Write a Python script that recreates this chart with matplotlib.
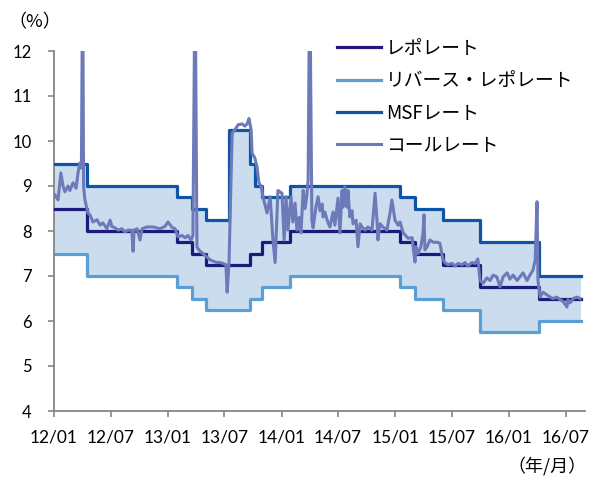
import matplotlib
matplotlib.use('Agg')
import matplotlib.pyplot as plt
import pandas as pd

plt.rcParams['font.family'] = ['Lato', 'Noto Sans CJK JP', 'DejaVu Sans']

# ---- policy rates (step changes) ----
repo_dates = ['2012-01-01', '2012-04-17', '2013-01-29', '2013-03-19', '2013-05-03',
              '2013-09-20', '2013-10-29', '2014-01-28', '2015-01-15', '2015-03-04',
              '2015-06-02', '2015-09-29', '2016-04-05']
repo_rate = [8.5, 8.0, 7.75, 7.5, 7.25, 7.5, 7.75, 8.0, 7.75, 7.5, 7.25, 6.75, 6.5]
reverse_repo_rate = [7.5, 7.0, 6.75, 6.5, 6.25, 6.5, 6.75, 7.0, 6.75, 6.5, 6.25, 5.75, 6.0]

msf_dates = ['2012-01-01', '2012-04-17', '2013-01-29', '2013-03-19', '2013-05-03',
             '2013-07-15', '2013-09-20', '2013-10-07', '2013-10-29', '2014-01-28',
             '2015-01-15', '2015-03-04', '2015-06-02', '2015-09-29', '2016-04-05']
msf_rate = [9.5, 9.0, 8.75, 8.5, 8.25, 10.25, 9.5, 9.0, 8.75, 9.0, 8.75, 8.5, 8.25, 7.75, 7.0]

rates_end = '2016-08-19'

# ---- call rate ----
call_dates = [
    '2012-01-04', '2012-01-14', '2012-01-23', '2012-01-30', '2012-02-05', '2012-02-15',
    '2012-02-21', '2012-03-02', '2012-03-12', '2012-03-18', '2012-03-24', '2012-03-29',
    '2012-04-02', '2012-04-05', '2012-04-09', '2012-04-19', '2012-04-26', '2012-05-05',
    '2012-05-18', '2012-05-28', '2012-06-06', '2012-06-19', '2012-06-29', '2012-07-05',
    '2012-07-15', '2012-07-25', '2012-08-06', '2012-08-16', '2012-08-26', '2012-09-07',
    '2012-09-11', '2012-09-14', '2012-09-24', '2012-10-03', '2012-10-10', '2012-10-26',
    '2012-11-14', '2012-12-06', '2012-12-22', '2013-01-01', '2013-01-14', '2013-01-24',
    '2013-02-02', '2013-02-15', '2013-02-25', '2013-03-06', '2013-03-16', '2013-03-22',
    '2013-03-29', '2013-04-04', '2013-04-14', '2013-04-23', '2013-05-06', '2013-05-16',
    '2013-05-26', '2013-06-07', '2013-06-17', '2013-06-27', '2013-07-06', '2013-07-10',
    '2013-07-16', '2013-07-26', '2013-08-04', '2013-08-14', '2013-08-27', '2013-09-05',
    '2013-09-12', '2013-09-18', '2013-09-25', '2013-09-28', '2013-10-07', '2013-10-14',
    '2013-10-20', '2013-10-27', '2013-11-02', '2013-11-15', '2013-11-25', '2013-12-04',
    '2013-12-11', '2013-12-20', '2014-01-02', '2014-01-09', '2014-01-15', '2014-01-21',
    '2014-01-31', '2014-02-06', '2014-02-13', '2014-02-19', '2014-02-26', '2014-03-04',
    '2014-03-11', '2014-03-17', '2014-03-23', '2014-03-27', '2014-04-01', '2014-04-08',
    '2014-04-12', '2014-04-21', '2014-04-28', '2014-05-04', '2014-05-11', '2014-05-14',
    '2014-05-20', '2014-05-27', '2014-06-05', '2014-06-15', '2014-06-21', '2014-07-01',
    '2014-07-07', '2014-07-14', '2014-07-17', '2014-07-23', '2014-07-30', '2014-08-02',
    '2014-08-08', '2014-08-15', '2014-08-18', '2014-08-28', '2014-09-03', '2014-09-10',
    '2014-09-16', '2014-09-26', '2014-10-05', '2014-10-18', '2014-10-28', '2014-11-03',
    '2014-11-06', '2014-11-13', '2014-11-22', '2014-12-05', '2014-12-15', '2014-12-21',
    '2014-12-31', '2015-01-10', '2015-01-16', '2015-01-26', '2015-02-11', '2015-02-24',
    '2015-02-27', '2015-03-05', '2015-03-08', '2015-03-15', '2015-03-24', '2015-03-31',
    '2015-04-03', '2015-04-06', '2015-04-13', '2015-04-22', '2015-05-02', '2015-05-15',
    '2015-05-24', '2015-06-03', '2015-06-09', '2015-06-19', '2015-07-02', '2015-07-12',
    '2015-07-21', '2015-08-03', '2015-08-13', '2015-08-22', '2015-09-04', '2015-09-14',
    '2015-09-23', '2015-09-30', '2015-10-10', '2015-10-22', '2015-11-01', '2015-11-11',
    '2015-11-23', '2015-12-03', '2015-12-13', '2015-12-26', '2016-01-04', '2016-01-14',
    '2016-01-27', '2016-02-05', '2016-02-15', '2016-02-28', '2016-03-08', '2016-03-18',
    '2016-03-25', '2016-03-31', '2016-04-03', '2016-04-10', '2016-04-19', '2016-05-02',
    '2016-05-12', '2016-05-21', '2016-06-03', '2016-06-13', '2016-06-22', '2016-07-05',
    '2016-07-08', '2016-07-15', '2016-07-25', '2016-08-06', '2016-08-16']
call_rate = [
    8.8, 8.69, 9.29, 9.0, 8.87, 9.0,
    8.9, 9.07, 8.95, 9.29, 9.51, 9.4,
    14.0, 9.0, 8.7, 8.4, 8.35, 8.2,
    8.25, 8.13, 8.18, 8.05, 8.24, 8.1,
    8.07, 8.02, 8.05, 7.98, 8.02, 8.02,
    7.55, 8.02, 8.05, 7.8, 8.05, 8.09,
    8.09, 8.05, 8.1, 8.2, 8.08, 8.05,
    7.87, 7.9, 7.85, 7.9, 7.8, 7.9,
    14.0, 7.64, 7.55, 7.5, 7.42, 7.36,
    7.33, 7.3, 7.3, 7.28, 7.25, 6.64,
    7.3, 10.17, 10.25, 10.36, 10.38, 10.33,
    10.38, 10.5, 10.25, 9.73, 9.62, 9.42,
    9.07, 9.0, 8.76, 8.4, 8.76, 7.8,
    7.3, 8.9, 8.84, 7.8, 8.76, 8.02,
    8.76, 8.2, 8.62, 8.02, 8.3, 7.96,
    8.9, 8.5, 8.8, 9.13, 14.0, 8.24,
    8.07, 8.53, 8.76, 8.45, 8.6, 8.31,
    8.42, 8.24, 8.09, 8.42, 8.13, 8.73,
    7.96, 8.9, 8.53, 8.98, 8.53, 8.9,
    8.31, 8.45, 8.16, 8.24, 7.65, 8.16,
    8.09, 8.02, 8.09, 8.02, 8.84, 8.24,
    7.8, 8.16, 8.09, 8.02, 8.4, 8.69,
    8.24, 8.13, 8.2, 7.96, 7.84, 7.85,
    7.65, 7.31, 7.65, 7.5, 7.65, 7.96,
    8.36, 7.58, 7.65, 7.8, 7.75, 7.75,
    7.73, 7.36, 7.3, 7.25, 7.28, 7.22,
    7.28, 7.25, 7.3, 7.22, 7.3, 7.28,
    7.38, 6.9, 6.84, 6.96, 6.9, 7.02,
    6.98, 6.76, 6.98, 7.07, 6.93, 7.02,
    6.9, 6.98, 7.07, 6.9, 7.02, 7.13,
    7.36, 8.65, 6.9, 6.53, 6.64, 6.58,
    6.53, 6.5, 6.53, 6.47, 6.44, 6.31,
    6.47, 6.4, 6.5, 6.53, 6.5]

x_tick_dates = ['2012-01-01', '2012-07-01', '2013-01-01', '2013-07-01', '2014-01-01',
                '2014-07-01', '2015-01-01', '2015-07-01', '2016-01-01', '2016-07-01']
x_tick_labels = ['12/01', '12/07', '13/01', '13/07', '14/01',
                 '14/07', '15/01', '15/07', '16/01', '16/07']
y_ticks = [4, 5, 6, 7, 8, 9, 10, 11, 12]

labels = ['レポレート', 'リバース・レポレート', 'MSFレート', 'コールレート']
colors = ['#1d1a7c', '#5a9fd6', '#0e55a6', '#6c7ab9']
fill_color = '#cadcee'
axis_color = '#868686'


def step_series(dates, values, end):
    s = pd.Series(list(values) + [values[-1]],
                  index=pd.to_datetime(list(dates) + [end]))
    return s


repo_s = step_series(repo_dates, repo_rate, rates_end)
rev_s = step_series(repo_dates, reverse_repo_rate, rates_end)
msf_s = step_series(msf_dates, msf_rate, rates_end)

grid = repo_s.index.union(msf_s.index)
rev_g = rev_s.reindex(grid).ffill()
msf_g = msf_s.reindex(grid).ffill()

fig = plt.figure(figsize=(5.9, 4.78), dpi=100)
ax = fig.add_axes([54 / 590, 1 - 411 / 478, (585 - 54) / 590, (411 - 51) / 478])

ax.fill_between(grid, rev_g.values, msf_g.values, step='post',
                color=fill_color, linewidth=0, zorder=1)
ax.step(repo_s.index, repo_s.values, where='post', color=colors[0], lw=2.3,
        label=labels[0], zorder=4)
ax.step(rev_s.index, rev_s.values, where='post', color=colors[1], lw=2.3,
        label=labels[1], zorder=2)
ax.step(msf_s.index, msf_s.values, where='post', color=colors[2], lw=2.3,
        label=labels[2], zorder=3)
ax.plot(pd.to_datetime(call_dates), call_rate, color=colors[3], lw=2.2,
        label=labels[3], zorder=5)

ax.set_xlim(pd.Timestamp('2012-01-01'), pd.Timestamp('2016-09-01'))
ax.set_ylim(4, 12)
ax.set_yticks(y_ticks)
ax.set_xticks(pd.to_datetime(x_tick_dates))
ax.set_xticklabels(x_tick_labels)

for side in ['top', 'right']:
    ax.spines[side].set_visible(False)
for side in ['left', 'bottom']:
    ax.spines[side].set_color(axis_color)
    ax.spines[side].set_linewidth(1.3)
ax.tick_params(axis='y', direction='out', length=4, width=1.2, color=axis_color,
               pad=12, labelsize=12, labelcolor='black')
ax.tick_params(axis='x', direction='out', length=4, width=1.2, color=axis_color,
               pad=9, labelsize=12.5, labelcolor='black')

fig.legend(loc='upper left', bbox_to_anchor=(337 / 590, 1 - 38 / 478),
           frameon=False, handlelength=2.35, handletextpad=0.25,
           labelspacing=0.6, borderpad=0, borderaxespad=0,
           prop={'family': ['Noto Sans CJK JP'], 'size': 13.5})

fig.text(8 / 590, 1 - 22 / 478, '（%）', ha='left', va='center', fontsize=13,
         family=['Noto Sans CJK JP'])
fig.text(587 / 590, 1 - 466 / 478, '（年/月）', ha='right', va='center', fontsize=13,
         family=['Noto Sans CJK JP'])

fig.savefig('out.png', dpi=100)
